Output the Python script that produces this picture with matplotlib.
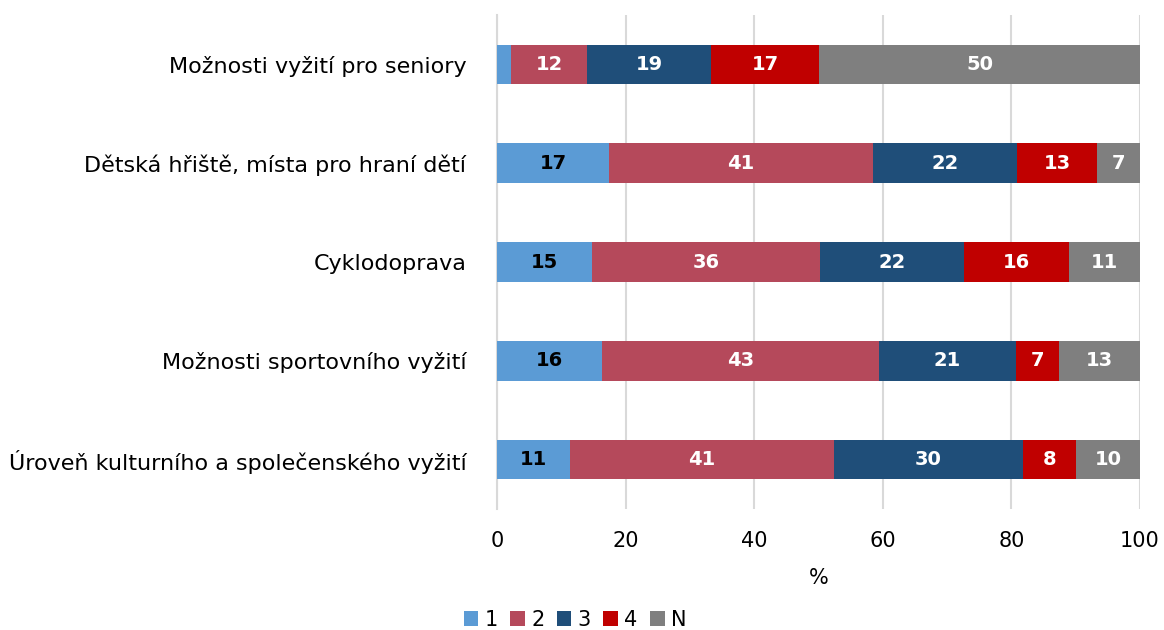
import numpy as np
import matplotlib.pyplot as plt

categories = [
    "Možnosti vyžití pro seniory",
    "Dětská hřiště, místa pro hraní dětí",
    "Cyklodoprava",
    "Možnosti sportovního vyžití",
    "Úroveň kulturního a společenského vyžití",
]
series_names = ["1", "2", "3", "4", "N"]
vals_1 = [2.2, 17.4, 14.8, 16.3, 11.4]
vals_2 = [11.8, 41.1, 35.4, 43.1, 41.0]
vals_3 = [19.3, 22.4, 22.4, 21.3, 29.4]
vals_4 = [16.8, 12.4, 16.3, 6.7, 8.2]
vals_n = [49.9, 6.7, 11.1, 12.6, 10.0]
labels_1 = ["", "17", "15", "16", "11"]
labels_2 = ["12", "41", "36", "43", "41"]
labels_3 = ["19", "22", "22", "21", "30"]
labels_4 = ["17", "13", "16", "7", "8"]
labels_n = ["50", "7", "11", "13", "10"]

colors = ["#5B9BD5", "#B5495B", "#1F4E79", "#C00000", "#7F7F7F"]
text_colors = ["black", "white", "white", "white", "white"]

plt.rcParams['font.family'] = ['DejaVu Sans']

fig = plt.figure(figsize=(11.64, 6.3), dpi=100)
ax = fig.add_axes([497/1164, 1 - 509/630, (1140 - 497)/1164, (509 - 15)/630])

y = np.arange(len(categories))
left = np.zeros(len(categories))
all_vals = [vals_1, vals_2, vals_3, vals_4, vals_n]
all_labels = [labels_1, labels_2, labels_3, labels_4, labels_n]
for name, vals, labs, c, tc in zip(series_names, all_vals, all_labels, colors, text_colors):
    bars = ax.barh(y, vals, left=left, height=0.4, color=c, label=name, zorder=3)
    ax.bar_label(bars, labels=labs, label_type="center", color=tc,
                 fontsize=14, fontweight="bold")
    left += np.array(vals)

ax.set_xlim(0, 100)
ax.set_ylim(len(categories) - 0.5, -0.5)
ax.set_xticks([0, 20, 40, 60, 80, 100])
ax.set_yticks(y)
ax.set_yticklabels(categories, fontsize=16)
ax.tick_params(axis="x", labelsize=15, length=0, pad=16)
ax.tick_params(axis="y", length=0, pad=22)
ax.grid(axis="x", color="#D9D9D9", linewidth=1.5, zorder=0)
for s in ["top", "right", "bottom"]:
    ax.spines[s].set_visible(False)
ax.spines["left"].set_color("#D9D9D9")
ax.spines["left"].set_linewidth(1.5)
ax.set_xlabel("%", fontsize=15, labelpad=12)

fig.legend(loc="center", bbox_to_anchor=(575/1164, 1 - 620/630), ncol=5,
           frameon=False, fontsize=15, handlelength=0.7, handleheight=0.7,
           handletextpad=0.3, columnspacing=0.6)

fig.savefig("out.png", dpi=100)
